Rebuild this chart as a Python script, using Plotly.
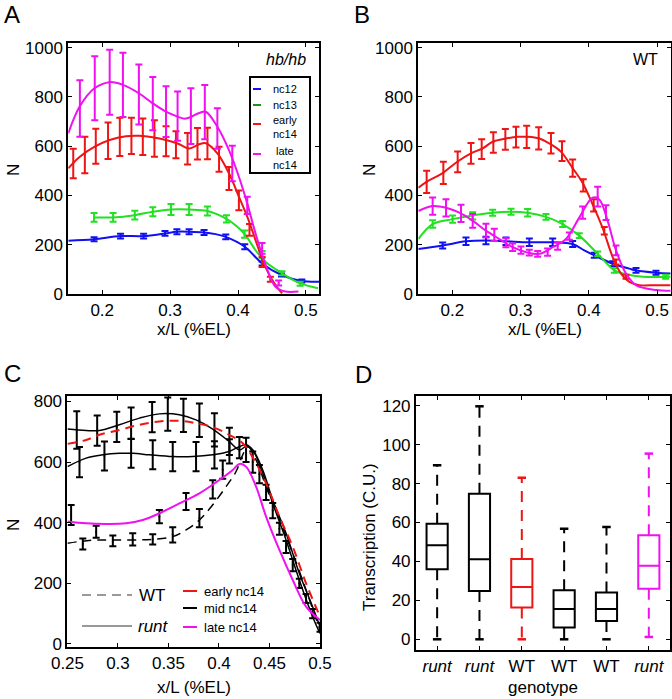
import plotly.graph_objects as go

W, H = 672, 699
FONT = "Liberation Sans, Arial, sans-serif"
BLUE, GREEN, RED, MAG, BLACK = "#1010f0", "#22e022", "#ee1515", "#f010f0", "#000000"

# ---------------- Panel A (hb/hb) ----------------
a_x_nc12 = [0.15, 0.188, 0.227, 0.261, 0.2925, 0.31, 0.328, 0.35, 0.367, 0.382, 0.41, 0.4355, 0.464, 0.494, 0.52]
a_y_nc12 = [216, 222, 235, 235, 246, 253, 253, 250, 243, 232, 192, 124, 77, 53, 50]
a_ex_nc12 = [0.188, 0.227, 0.261, 0.2925, 0.31, 0.328, 0.35, 0.382, 0.41, 0.4355, 0.464, 0.494]
a_ey_nc12 = [222, 235, 235, 246, 253, 253, 250, 232, 192, 124, 77, 53]
a_ee_nc12 = [8, 10, 10, 10, 10, 10, 10, 10, 10, 8, 6, 6]

a_x_nc13 = [0.1866, 0.2159, 0.2476, 0.2745, 0.3013, 0.328, 0.355, 0.3818, 0.399, 0.411, 0.4258, 0.4404, 0.465, 0.489, 0.518]
a_y_nc13 = [311, 311, 320, 334, 343, 343, 337, 307, 273, 239, 178, 131, 84, 46, 23]
a_ex_nc13 = [0.188, 0.216, 0.248, 0.2745, 0.3013, 0.328, 0.355, 0.383, 0.4096, 0.4355, 0.4648, 0.4915]
a_ey_nc13 = [311, 311, 320, 334, 343, 343, 337, 305, 243, 160, 84, 42]
a_ee_nc13 = [18, 18, 18, 18, 22, 22, 18, 15, 15, 15, 8, 8]

a_x_e14 = [0.15, 0.167, 0.189, 0.211, 0.235, 0.254, 0.2745, 0.294, 0.311, 0.328, 0.343, 0.3525, 0.3696, 0.3867, 0.4013, 0.4136, 0.4258, 0.44, 0.455, 0.465]
a_y_e14 = [510, 557, 598, 625, 640, 642, 636, 625, 611, 591, 608, 612, 571, 490, 395, 314, 219, 111, 37, 3]
a_ex_e14 = [0.1573, 0.1744, 0.1905, 0.2086, 0.2259, 0.243, 0.2598, 0.2769, 0.294, 0.3086, 0.3257, 0.3403, 0.355, 0.3721, 0.3867, 0.4013, 0.4169, 0.4355, 0.4477]
a_ey_e14 = [530, 564, 600, 622, 638, 642, 638, 631, 620, 606, 590, 610, 611, 547, 469, 380, 260, 130, 60]
a_ee_e14 = [60, 74, 71, 74, 78, 74, 74, 74, 61, 55, 64, 64, 64, 51, 47, 40, 24, 20, 10]

a_x_l14 = [0.15, 0.167, 0.189, 0.211, 0.2305, 0.254, 0.2745, 0.294, 0.311, 0.323, 0.343, 0.3525, 0.3696, 0.3867, 0.4013, 0.4136, 0.4258, 0.44, 0.455, 0.4697, 0.489]
a_y_l14 = [652, 762, 836, 860, 849, 815, 774, 740, 720, 712, 735, 740, 679, 584, 476, 368, 246, 124, 30, 10, 10]
a_ex_l14 = [0.1671, 0.189, 0.211, 0.2305, 0.254, 0.2745, 0.294, 0.311, 0.3306, 0.3511, 0.3696, 0.3916, 0.4136, 0.4355, 0.4599]
a_ey_l14 = [753, 835, 860, 849, 810, 773, 740, 722, 722, 738, 672, 530, 360, 185, 45]
a_ee_l14 = [115, 130, 132, 130, 122, 108, 103, 100, 113, 110, 82, 72, 35, 22, 10]

# ---------------- Panel B (WT) ----------------
b_x_nc12 = [0.15, 0.1857, 0.2199, 0.2492, 0.2785, 0.3128, 0.347, 0.3763, 0.3934, 0.408, 0.435, 0.4594, 0.469, 0.4985, 0.52]
b_y_nc12 = [183, 197, 214, 217, 214, 210, 210, 203, 177, 157, 123, 103, 96, 86, 83]
b_ex_nc12 = [0.1857, 0.2199, 0.2492, 0.2785, 0.3128, 0.347, 0.3763, 0.408, 0.435, 0.4692, 0.4985]
b_ey_nc12 = [197, 214, 217, 214, 210, 210, 203, 157, 123, 96, 86]
b_ee_nc12 = [12, 15, 15, 15, 15, 15, 12, 10, 10, 10, 8]

b_x_nc13 = [0.15, 0.171, 0.2003, 0.2248, 0.259, 0.2859, 0.31, 0.3372, 0.3616, 0.386, 0.413, 0.4374, 0.4545, 0.479, 0.52]
b_y_nc13 = [223, 284, 304, 317, 330, 334, 330, 313, 284, 237, 163, 96, 80, 70, 70]
b_ex_nc13 = [0.171, 0.2003, 0.2297, 0.259, 0.2859, 0.3103, 0.3372, 0.3616, 0.386, 0.413, 0.4374, 0.5127]
b_ey_nc13 = [284, 304, 317, 330, 334, 330, 313, 284, 237, 163, 96, 70]
b_ee_nc13 = [15, 15, 15, 12, 12, 15, 12, 12, 10, 10, 10, 8]

b_x_e14 = [0.15, 0.1637, 0.1857, 0.2077, 0.2272, 0.2443, 0.259, 0.2785, 0.2957, 0.31, 0.3274, 0.342, 0.359, 0.3763, 0.391, 0.4056, 0.42, 0.435, 0.4472, 0.4594, 0.474, 0.4985, 0.52]
b_y_e14 = [431, 458, 491, 538, 571, 591, 618, 631, 638, 638, 631, 611, 578, 511, 451, 364, 270, 150, 83, 49, 36, 36, 36]
b_ex_e14 = [0.1622, 0.1867, 0.2077, 0.2272, 0.2429, 0.26, 0.2776, 0.2932, 0.3089, 0.3265, 0.3445, 0.3607, 0.3763, 0.3919, 0.4071, 0.4227, 0.4398, 0.4545]
b_ey_e14 = [455, 492, 536, 571, 588, 615, 628, 637, 638, 632, 612, 580, 511, 441, 360, 257, 130, 70]
b_ee_e14 = [45, 45, 42, 42, 40, 42, 42, 42, 45, 45, 42, 40, 35, 25, 25, 15, 10, 8]

b_x_l14 = [0.15, 0.171, 0.1906, 0.2101, 0.23, 0.2492, 0.2688, 0.2883, 0.3079, 0.3274, 0.347, 0.3665, 0.386, 0.4056, 0.4154, 0.4276, 0.4399, 0.4545, 0.469, 0.4985, 0.52]
b_y_l14 = [337, 357, 350, 330, 297, 257, 223, 190, 170, 163, 190, 223, 310, 391, 384, 297, 177, 83, 36, 16, 13]
b_ex_l14 = [0.171, 0.1906, 0.2126, 0.2297, 0.2492, 0.2614, 0.2785, 0.2883, 0.3005, 0.3127, 0.325, 0.3396, 0.3543, 0.3714, 0.391, 0.413, 0.4252, 0.4399]
b_ey_l14 = [357, 350, 327, 297, 257, 240, 208, 190, 178, 168, 163, 170, 195, 235, 330, 395, 330, 177]
b_ee_l14 = [35, 35, 35, 28, 28, 25, 18, 15, 15, 12, 12, 15, 15, 15, 25, 40, 30, 20]

# ---------------- Panel C (WT vs runt) ----------------
c_x_wt_e = [0.25, 0.2685, 0.2817, 0.3014, 0.3212, 0.341, 0.3608, 0.3773, 0.3938, 0.41, 0.4235, 0.4367, 0.4466, 0.4598, 0.473, 0.4862, 0.5]
c_y_wt_e = [660, 673, 690, 706, 723, 734, 736, 728, 715, 690, 662, 596, 530, 420, 321, 200, 90]

c_x_r_top = [0.25, 0.2685, 0.2817, 0.3014, 0.3212, 0.341, 0.3608, 0.3773, 0.3938, 0.41, 0.4202, 0.4268, 0.4334, 0.4433, 0.4532, 0.4664, 0.4795, 0.4927, 0.5]
c_y_r_top = [709, 704, 704, 723, 745, 759, 756, 739, 709, 668, 640, 651, 640, 574, 475, 365, 233, 123, 57]

c_x_r_mid = [0.25, 0.2685, 0.285, 0.3014, 0.3146, 0.3311, 0.3542, 0.374, 0.3938, 0.41, 0.4202, 0.4268, 0.4334, 0.4433, 0.4532, 0.4664, 0.4795, 0.4927, 0.5]
c_y_r_mid = [585, 613, 624, 629, 629, 624, 618, 618, 624, 635, 651, 657, 640, 563, 464, 343, 211, 90, 35]

c_x_wt_m = [0.25, 0.2619, 0.2784, 0.2949, 0.3146, 0.3344, 0.3542, 0.3674, 0.3806, 0.3938, 0.407, 0.4169, 0.4235, 0.4285, 0.4367, 0.4466, 0.4598, 0.473, 0.4862, 0.5]
c_y_wt_m = [332, 338, 343, 343, 343, 345, 354, 376, 409, 459, 519, 569, 624, 651, 607, 519, 409, 299, 178, 46]

c_x_r_late = [0.25, 0.2685, 0.2883, 0.308, 0.3245, 0.341, 0.3608, 0.3806, 0.4004, 0.4136, 0.4202, 0.4268, 0.4367, 0.4466, 0.4598, 0.473, 0.4862, 0.5]
c_y_r_late = [404, 398, 396, 398, 409, 431, 464, 497, 541, 574, 594, 585, 519, 420, 310, 211, 123, 79]

c_ex = [0.2592, 0.2794, 0.2988, 0.313, 0.3338, 0.3493, 0.3648, 0.3806, 0.3955, 0.4103,
        0.2619, 0.2866, 0.313, 0.3344, 0.3542, 0.3773, 0.3955, 0.4103, 0.4202,
        0.2536, 0.2652, 0.2784, 0.2949, 0.3146, 0.3344, 0.341, 0.3542, 0.3674, 0.3806, 0.3938, 0.4037,
        0.4268, 0.4334, 0.44, 0.4466, 0.4532, 0.4598, 0.4664, 0.473, 0.4795, 0.4862, 0.4927, 0.5]
c_ey = [706, 704, 716, 728, 748, 758, 754, 738, 706, 668,
        600, 620, 629, 624, 618, 618, 624, 635, 648,
        425, 330, 370, 340, 345, 345, 420, 360, 470, 415, 510, 575,
        640, 600, 560, 500, 440, 380, 320, 260, 200, 150, 100, 55]
c_ee = [62, 50, 50, 52, 50, 55, 55, 55, 55, 45,
        50, 48, 48, 48, 48, 48, 45, 40, 35,
        33, 18, 20, 18, 20, 17, 22, 25, 28, 30, 30, 30,
        40, 35, 30, 25, 25, 20, 20, 20, 15, 15, 15, 15]

# ---------------- Panel D (box plots) ----------------
d_pos = [1, 2, 3, 4, 5, 6]
d_labels = ["<i>runt</i>", "<i>runt</i>", "WT", "WT", "WT", "<i>runt</i>"]
d_q1 = [36, 24.8, 16.3, 6, 9.4, 26]
d_med = [48.3, 41.1, 26.9, 15.6, 15.6, 37.8]
d_q3 = [59.4, 74.8, 41.3, 25.2, 24, 53.4]
d_lo = [0, 0, 0, 0, 0, 1.2]
d_hi = [89.4, 119.7, 83, 56.8, 57.7, 95.4]
d_colors = [BLACK, BLACK, RED, BLACK, BLACK, MAG]


def px(x):
    return x / W


def py(y):
    return 1 - y / H


fig = go.Figure()


def curve(xs, ys, color, xa, ya, dash=None, width=2):
    fig.add_trace(go.Scatter(x=xs, y=ys, mode="lines", xaxis=xa, yaxis=ya,
                             line=dict(color=color, width=width, shape="spline", smoothing=1, dash=dash),
                             showlegend=False, hoverinfo="skip"))


def ebars(xs, ys, es, color, xa, ya):
    fig.add_trace(go.Scatter(x=xs, y=ys, mode="markers", xaxis=xa, yaxis=ya,
                             marker=dict(size=2, color=color),
                             error_y=dict(type="data", array=es, color=color, thickness=2, width=3.5),
                             showlegend=False, hoverinfo="skip"))


# A
for xs, ys, ex, ey, ee, c in [
    (a_x_nc12, a_y_nc12, a_ex_nc12, a_ey_nc12, a_ee_nc12, BLUE),
    (a_x_nc13, a_y_nc13, a_ex_nc13, a_ey_nc13, a_ee_nc13, GREEN),
    (a_x_e14, a_y_e14, a_ex_e14, a_ey_e14, a_ee_e14, RED),
    (a_x_l14, a_y_l14, a_ex_l14, a_ey_l14, a_ee_l14, MAG),
]:
    curve(xs, ys, c, "x", "y")
    ebars(ex, ey, ee, c, "x", "y")

# B
for xs, ys, ex, ey, ee, c in [
    (b_x_nc12, b_y_nc12, b_ex_nc12, b_ey_nc12, b_ee_nc12, BLUE),
    (b_x_nc13, b_y_nc13, b_ex_nc13, b_ey_nc13, b_ee_nc13, GREEN),
    (b_x_e14, b_y_e14, b_ex_e14, b_ey_e14, b_ee_e14, RED),
    (b_x_l14, b_y_l14, b_ex_l14, b_ey_l14, b_ee_l14, MAG),
]:
    curve(xs, ys, c, "x2", "y2")
    ebars(ex, ey, ee, c, "x2", "y2")

# C
ebars(c_ex, c_ey, c_ee, BLACK, "x3", "y3")
curve(c_x_wt_m, c_y_wt_m, BLACK, "x3", "y3", dash="9px,6px", width=1.5)
curve(c_x_r_top, c_y_r_top, BLACK, "x3", "y3", width=1.5)
curve(c_x_r_mid, c_y_r_mid, BLACK, "x3", "y3", width=1.5)
curve(c_x_wt_e, c_y_wt_e, RED, "x3", "y3", dash="9px,6px", width=2)
curve(c_x_r_late, c_y_r_late, MAG, "x3", "y3", width=2)

# D
for i, p in enumerate(d_pos):
    c = d_colors[i]
    fig.add_trace(go.Box(x=[p], q1=[d_q1[i]], median=[d_med[i]], q3=[d_q3[i]],
                         lowerfence=[d_q1[i]], upperfence=[d_q3[i]], width=0.5,
                         whiskerwidth=0, line=dict(color=c, width=2), fillcolor="rgba(0,0,0,0)",
                         xaxis="x4", yaxis="y4", showlegend=False, hoverinfo="skip",
                         boxpoints=False))
    fig.add_trace(go.Scatter(x=[p, p, None, p, p], y=[d_q3[i], d_hi[i], None, d_q1[i], d_lo[i]],
                             mode="lines", line=dict(color=c, width=2, dash="11px,8px"),
                             xaxis="x4", yaxis="y4", showlegend=False, hoverinfo="skip"))
    fig.add_trace(go.Scatter(x=[p - 0.1, p + 0.1, None, p - 0.1, p + 0.1],
                             y=[d_hi[i], d_hi[i], None, d_lo[i], d_lo[i]],
                             mode="lines", line=dict(color=c, width=2.5),
                             xaxis="x4", yaxis="y4", showlegend=False, hoverinfo="skip"))

axis_common = dict(showline=True, linecolor="black", linewidth=2, mirror="allticks",
                   ticks="inside", ticklen=4, tickwidth=1, tickcolor="black",
                   showgrid=False, zeroline=False, automargin=False,
                   tickfont=dict(family=FONT, size=17, color="black"))

yA = [0.5794, 0.9378]
fig.update_layout(
    width=W, height=H, margin=dict(l=0, r=0, t=0, b=0, autoexpand=False),
    paper_bgcolor="white", plot_bgcolor="white",
    font=dict(family=FONT, color="black"),
    xaxis=dict(domain=[0.1016, 0.4754], range=[0.15, 0.52], anchor="y",
               tickvals=[0.2, 0.3, 0.4, 0.5], ticktext=["0.2", "0.3", "0.4", "0.5"], **axis_common),
    yaxis=dict(domain=yA, range=[0, 1017], anchor="x",
               tickvals=[0, 200, 400, 600, 800, 1000], **axis_common),
    xaxis2=dict(domain=[0.6225, 0.998], range=[0.15, 0.52], anchor="y2",
                tickvals=[0.2, 0.3, 0.4, 0.5], ticktext=["0.2", "0.3", "0.4", "0.5"], **axis_common),
    yaxis2=dict(domain=yA, range=[0, 1017], anchor="x2",
                tickvals=[0, 200, 400, 600, 800, 1000], **axis_common),
    xaxis3=dict(domain=[0.1004, 0.4762], range=[0.25, 0.5], anchor="y3",
                tickvals=[0.25, 0.3, 0.35, 0.4, 0.45, 0.5],
                ticktext=["0.25", "0.3", "0.35", "0.4", "0.45", "0.5"], **axis_common),
    yaxis3=dict(domain=[0.0744, 0.4335], range=[-10, 818], anchor="x3",
                tickvals=[0, 200, 400, 600, 800], **axis_common),
    xaxis4=dict(domain=[0.619, 0.997], range=[0.5, 6.5], anchor="y4",
                tickvals=d_pos, ticktext=d_labels, **axis_common),
    yaxis4=dict(domain=[0.0701, 0.4335], range=[-5.5, 125], anchor="x4",
                tickvals=[0, 20, 40, 60, 80, 100, 120], **axis_common),
)

ann = []


def text(x, y, s, size=17, angle=0, xanchor="center"):
    ann.append(dict(x=px(x), y=py(y), xref="paper", yref="paper", text=s, showarrow=False,
                    font=dict(family=FONT, size=size, color="black"), textangle=angle,
                    xanchor=xanchor, yanchor="middle"))


# panel letters
text(12, 14, "A", 24)
text(362, 14, "B", 24)
text(12, 373, "C", 24)
text(363, 374, "D", 24)
# axis titles
text(13, 170, "N", 17, -90)
text(369, 170, "N", 17, -90)
text(13, 525, "N", 17, -90)
text(369, 537, "Transcription (C.U.)", 17, -90)
text(194, 329, "x/L (%EL)", 17)
text(545, 329, "x/L (%EL)", 17)
text(194, 687, "x/L (%EL)", 17)
text(543, 687, "genotype", 17)
# inset labels
text(308, 60, "<i>hb/hb</i>", 16, xanchor="right")
text(660, 60, "WT", 16, xanchor="right")

# legend A
shapes = []
shapes.append(dict(type="rect", xref="paper", yref="paper", x0=px(250), x1=px(310), y0=py(173), y1=py(77),
                   line=dict(color="black", width=2), fillcolor="white", layer="above"))
leg_items = [(89, BLUE, [(89, "nc12")]), (105, "#1f8f1f", [(105, "nc13")]),
             (124, RED, [(120, "early"), (134, "nc14")]), (154, MAG, [(151, "late"), (165, "nc14")])]
for ly, col, texts in leg_items:
    shapes.append(dict(type="line", xref="paper", yref="paper", x0=px(253), x1=px(261), y0=py(ly), y1=py(ly),
                       line=dict(color=col, width=2), layer="above"))
    for ty, t in texts:
        ann.append(dict(x=px(285), y=py(ty), xref="paper", yref="paper", text=t, showarrow=False,
                        font=dict(family=FONT, size=11, color="black"), xanchor="center", yanchor="middle"))

# legend C
shapes.append(dict(type="line", xref="paper", yref="paper", x0=px(82), x1=px(132), y0=py(595), y1=py(595),
                   line=dict(color="#999999", width=2, dash="9px,6px")))
shapes.append(dict(type="line", xref="paper", yref="paper", x0=px(82), x1=px(132), y0=py(626), y1=py(626),
                   line=dict(color="#999999", width=2)))
text(137, 595, "WT", 17, xanchor="left")
text(136, 626, "<i>runt</i>", 17, xanchor="left")
for ly, col, t in [(591, RED, "early nc14"), (608, BLACK, "mid nc14"), (627, MAG, "late nc14")]:
    shapes.append(dict(type="line", xref="paper", yref="paper", x0=px(183), x1=px(197), y0=py(ly), y1=py(ly),
                       line=dict(color=col, width=2)))
    text(202, ly, t, 13, xanchor="left")

fig.update_layout(annotations=ann, shapes=shapes)
fig.write_html("out.html", config={"displayModeBar": False},
               post_script="document.body.style.margin='0';document.body.style.overflow='hidden';")
